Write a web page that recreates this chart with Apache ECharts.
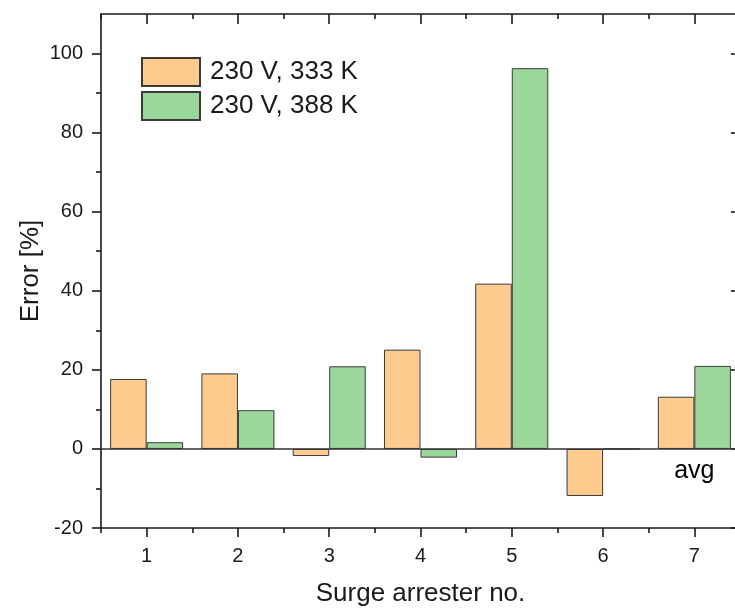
<!DOCTYPE html>
<html>
<head>
<meta charset="utf-8">
<script src="https://cdn.jsdelivr.net/npm/echarts@6/dist/echarts.min.js"></script>
<style>html,body{margin:0;padding:0;background:#fff;overflow:hidden;}#c{width:735px;height:608px;}</style>
</head>
<body>
<div id="c"></div>
<script>
var categories = ['1', '2', '3', '4', '5', '6', '7'];
var seriesNames = ['230 V, 333 K', '230 V, 388 K'];
var values333 = [17.7, 19.1, -1.8, 25.1, 41.8, -11.9, 13.2];
var values388 = [1.7, 9.8, 20.9, -2.2, 96.3, 0, 21.0];
var yMajorTicks = [-20, 0, 20, 40, 60, 80, 100];
var yMinorTicks = [-10, 10, 30, 50, 70, 90];
var yMin = -20, yMax = 110;
var avgLabel = 'avg';
var avgPoint = [6, -5.6];

var FONT = 'Liberation Sans, Arial, sans-serif';
var AX = '#1a1a1a';
var chart = echarts.init(document.getElementById('c'), null, {renderer: 'canvas'});

function catAxis(pos, inside, align, len, showLine, showLabel) {
  return {
    type: 'category', position: pos, data: categories, boundaryGap: true,
    nameMoveOverlap: false,
    axisLine: {show: showLine, onZero: false, lineStyle: {color: AX, width: 1.6}},
    axisTick: {show: true, inside: inside, alignWithLabel: align, length: len, lineStyle: {color: AX, width: 1.6}},
    axisLabel: {show: showLabel, fontSize: 20, color: '#1a1a1a', fontFamily: FONT, margin: 18},
    splitLine: {show: false}
  };
}
function valAxis(pos, inside, ticks, len, showLine, showLabel) {
  return {
    type: 'value', position: pos, min: yMin, max: yMax,
    nameMoveOverlap: false,
    axisLine: {show: showLine, onZero: false, lineStyle: {color: AX, width: 1.6}},
    axisTick: {show: true, inside: inside, length: len, customValues: ticks, lineStyle: {color: AX, width: 1.6}},
    axisLabel: {show: showLabel, customValues: yMajorTicks, fontSize: 20, color: '#1a1a1a', fontFamily: FONT, margin: 18},
    splitLine: {show: false}
  };
}

var xAxes = [
  catAxis('bottom', false, true, 9, true, true),
  catAxis('bottom', false, false, 5, false, false),
  catAxis('top', true, true, 10, true, false),
  catAxis('top', true, false, 5, false, false)
];
xAxes[0].name = 'Surge arrester no.';
xAxes[0].nameLocation = 'middle';
xAxes[0].nameGap = 53;
xAxes[0].nameTextStyle = {fontSize: 26, color: '#1a1a1a', fontFamily: FONT};

var yAxes = [
  valAxis('left', false, yMajorTicks, 9, true, true),
  valAxis('left', false, yMinorTicks, 5, false, false),
  valAxis('right', true, yMajorTicks, 9, true, false),
  valAxis('right', true, yMinorTicks, 5, false, false)
];
yAxes[0].name = 'Error [%]';
yAxes[0].nameLocation = 'middle';
yAxes[0].nameGap = 57;
yAxes[0].nameTextStyle = {fontSize: 26, color: '#1a1a1a', fontFamily: FONT};

var option = {
  backgroundColor: '#ffffff',
  animation: false,
  grid: {left: 101, top: 14, width: 639, height: 514, containLabel: false, outerBoundsMode: 'none'},
  legend: {
    orient: 'vertical', left: 141, top: 57, padding: 0,
    itemWidth: 58, itemHeight: 28, itemGap: 4, icon: 'rect',
    textStyle: {fontSize: 26, color: '#1a1a1a', fontFamily: FONT, padding: [0, 0, 0, 5]},
    data: seriesNames
  },
  xAxis: xAxes,
  yAxis: yAxes,
  series: [
    {
      name: seriesNames[0], type: 'bar', xAxisIndex: 0, yAxisIndex: 0,
      data: values333, barGap: '0%', barCategoryGap: '20%',
      itemStyle: {color: '#FFCC90', borderColor: '#3a3a3a', borderWidth: 1},
      markLine: {
        silent: true, symbol: ['none', 'none'], label: {show: false},
        lineStyle: {color: '#333', width: 1.6, type: 'solid'},
        data: [{yAxis: 0}]
      }
    },
    {
      name: seriesNames[1], type: 'bar', xAxisIndex: 0, yAxisIndex: 0,
      data: values388, barGap: '0%', barCategoryGap: '20%',
      itemStyle: {color: '#9BD69B', borderColor: '#3a3a3a', borderWidth: 1}
    },
    {
      name: 'annotation', type: 'scatter', xAxisIndex: 0, yAxisIndex: 0,
      data: [avgPoint], symbolSize: 0, silent: true,
      itemStyle: {opacity: 1},
      label: {show: true, position: 'inside', formatter: avgLabel, fontSize: 25, color: '#000000', opacity: 1, fontFamily: FONT}
    }
  ]
};
chart.setOption(option);
</script>
</body>
</html>
